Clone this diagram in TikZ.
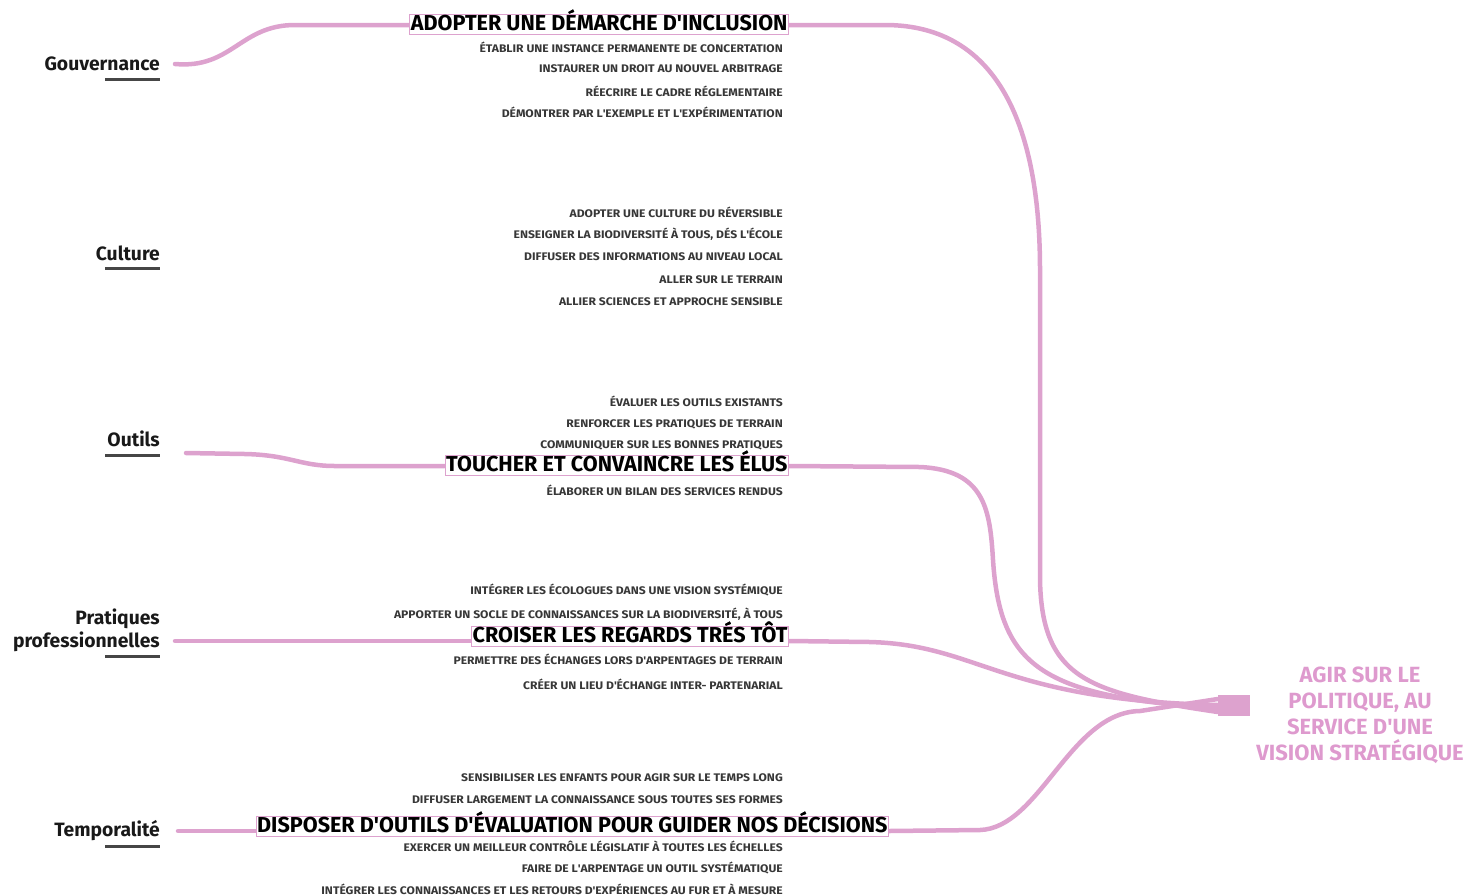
\documentclass[tikz,border=0pt]{standalone}
\usepackage{fontspec}
\setmainfont{Fira Sans}
\newfontfamily\itemfont{Fira Sans}[FakeStretch=1.1]
\newcommand\ap{\textquotesingle}
\definecolor{pinkline}{RGB}{221,162,206}
\definecolor{pinktext}{RGB}{222,154,206}
\definecolor{itemgray}{RGB}{55,55,55}
\definecolor{labelblack}{RGB}{25,25,25}
\definecolor{ulgray}{RGB}{70,70,70}
\begin{document}
\begin{tikzpicture}[x=1pt,y=-1pt,
  conn/.style={draw=pinkline,line width=4.5pt,line cap=round},
  cat/.style={font=\fontsize{19.3}{23}\selectfont\bfseries,text=labelblack,anchor=east,inner sep=0pt,align=right},
  uline/.style={draw=ulgray,line width=3pt},
  item/.style={font=\itemfont\fontsize{11}{12}\selectfont\bfseries,text=itemgray,anchor=east,inner sep=0pt},
  mainlab/.style={font=\fontsize{21.6}{24}\selectfont\bfseries,text=black,draw=pinkline,line width=1pt,fill=white,
     anchor=east,inner xsep=1pt,inner ysep=1.5pt,text height=15pt,text depth=2pt},
  goaltext/.style={font=\fontsize{22}{26}\selectfont\bfseries,text=pinktext,align=center,inner sep=0pt},
  hubbox/.style={fill=pinkline,draw=none,minimum width=32pt,minimum height=21pt,inner sep=0pt}
]
\useasboundingbox (0,0) rectangle (1467,895);

% hub and goal
\node[hubbox] (hub) at (1234,705) {};
\node[goaltext] (goal) at (1360,715) {AGIR SUR LE\\POLITIQUE, AU\\SERVICE D\ap UNE\\VISION STRATÉGIQUE};

% categories
\node[cat] (gov) at (160,64) {Gouvernance};
\node[cat] (cul) at (160,253) {Culture};
\node[cat] (out) at (160,439) {Outils};
\node[cat] (pra) at (160,630) {Pratiques\\professionnelles};
\node[cat] (tem) at (160,831) {Temporalité};
\draw[uline] (105,79) -- (160,79);
\draw[uline] (105,268) -- (160,268);
\draw[uline] (105,455) -- (160,455);
\draw[uline] (105,656) -- (160,656);
\draw[uline] (105,846) -- (160,846);

% start coordinates
\coordinate (govs) at (175,64);
\coordinate (outs) at (186,453);
\coordinate (pras) at (175,641);
\coordinate (tems) at (178,831);

% items
\node[item] (g1) at (783,47) {ÉTABLIR UNE INSTANCE PERMANENTE DE CONCERTATION};
\node[item] (g2) at (783,69) {INSTAURER UN DROIT AU NOUVEL ARBITRAGE};
\node[item] (g3) at (783,91) {RÉECRIRE LE CADRE RÉGLEMENTAIRE};
\node[item] (g4) at (783,112) {DÉMONTRER PAR L\ap EXEMPLE ET L\ap EXPÉRIMENTATION};

\node[item] (c1) at (783,212) {ADOPTER UNE CULTURE DU RÉVERSIBLE};
\node[item] (c2) at (783,234) {ENSEIGNER LA BIODIVERSITÉ À TOUS, DÉS L\ap ÉCOLE};
\node[item] (c3) at (783,257) {DIFFUSER DES INFORMATIONS AU NIVEAU LOCAL};
\node[item] (c4) at (783,280) {ALLER SUR LE TERRAIN};
\node[item] (c5) at (783,302) {ALLIER SCIENCES ET APPROCHE SENSIBLE};

\node[item] (o1) at (783,401) {ÉVALUER LES OUTILS EXISTANTS};
\node[item] (o2) at (783,424) {RENFORCER LES PRATIQUES DE TERRAIN};
\node[item] (o3) at (783,445) {COMMUNIQUER SUR LES BONNES PRATIQUES};
\node[item] (o4) at (783,490) {ÉLABORER UN BILAN DES SERVICES RENDUS};

\node[item] (p1) at (783,590) {INTÉGRER LES ÉCOLOGUES DANS UNE VISION SYSTÉMIQUE};
\node[item] (p2) at (783,614) {APPORTER UN SOCLE DE CONNAISSANCES SUR LA BIODIVERSITÉ, À TOUS};
\node[item] (p3) at (783,659) {PERMETTRE DES ÉCHANGES LORS D\ap ARPENTAGES DE TERRAIN};
\node[item] (p4) at (783,684) {CRÉER UN LIEU D\ap ÉCHANGE INTER- PARTENARIAL};

\node[item] (t1) at (783,778) {SENSIBILISER LES ENFANTS POUR AGIR SUR LE TEMPS LONG};
\node[item] (t2) at (783,800) {DIFFUSER LARGEMENT LA CONNAISSANCE SOUS TOUTES SES FORMES};
\node[item] (t3) at (783,846) {EXERCER UN MEILLEUR CONTRÔLE LÉGISLATIF À TOUTES LES ÉCHELLES};
\node[item] (t4) at (783,868) {FAIRE DE L\ap ARPENTAGE UN OUTIL SYSTÉMATIQUE};
\node[item] (t5) at (783,889) {INTÉGRER LES CONNAISSANCES ET LES RETOURS D\ap EXPÉRIENCES AU FUR ET À MESURE};

% main labels
\node[mainlab] (adopt) at (789,24) {ADOPTER UNE DÉMARCHE D\ap INCLUSION};
\node[mainlab] (touch) at (789,465) {TOUCHER ET CONVAINCRE LES ÉLUS};
\node[mainlab] (crois) at (789,636) {CROISER LES REGARDS TRÉS TÔT};
\node[mainlab] (dispo) at (889,826) {DISPOSER D\ap OUTILS D\ap ÉVALUATION POUR GUIDER NOS DÉCISIONS};

% connectors
\draw[conn] (govs) .. controls (232,69) and (240,25) .. (295,25) -- (adopt.west |- 0,25);
\draw[conn] (adopt.east |- 0,25) -- (885,25) .. controls (1000,25) and (1040,130) .. (1040,270)
   -- (1040,580) .. controls (1042,680) and (1090,693) .. ([yshift=-7pt]hub.west);
\draw[conn] (outs) -- (245,454) .. controls (290,455) and (300,466) .. (335,466) -- (touch.west |- 0,466);
\draw[conn] (touch.east |- 0,466) -- (920,467) .. controls (985,470) and (990,510) .. (993,560)
   .. controls (1000,665) and (1040,697) .. ([yshift=-3pt]hub.west);
\draw[conn] (pras) -- (crois.west |- pras);
\draw[conn] (crois.east |- 0,641) -- (870,642) .. controls (980,645) and (1000,700) .. ([yshift=0pt]hub.west);
\draw[conn] (tems) -- (dispo.west |- tems);
\draw[conn] (dispo.east |- 0,831) -- (980,830) .. controls (1040,828) and (1070,712) .. (1140,711) -- ([yshift=6pt]hub.west);

% label boxes on top of connectors
\node[mainlab] at (789,24) {ADOPTER UNE DÉMARCHE D\ap INCLUSION};
\node[mainlab] at (789,465) {TOUCHER ET CONVAINCRE LES ÉLUS};
\node[mainlab] at (789,636) {CROISER LES REGARDS TRÉS TÔT};
\node[mainlab] at (889,826) {DISPOSER D\ap OUTILS D\ap ÉVALUATION POUR GUIDER NOS DÉCISIONS};
\end{tikzpicture}
\end{document}
